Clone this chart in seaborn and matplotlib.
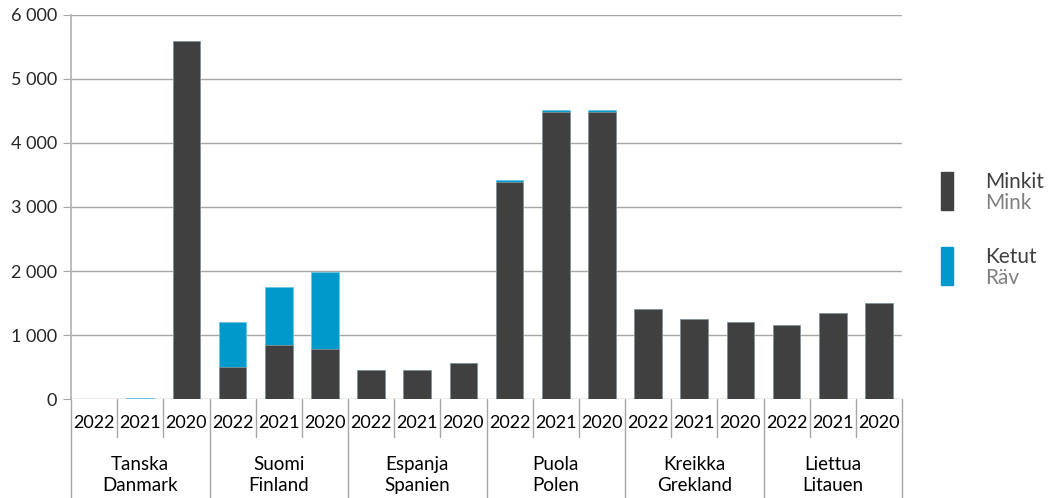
import numpy as np
import pandas as pd
import matplotlib
matplotlib.use('Agg')
import matplotlib.pyplot as plt
import matplotlib.ticker as mticker
from matplotlib.patches import Rectangle
import seaborn as sns

sns.set_style('white')
plt.rcParams['font.family'] = ['Lato', 'DejaVu Sans']

# data
countries = ['Tanska\nDanmark', 'Suomi\nFinland', 'Espanja\nSpanien',
             'Puola\nPolen', 'Kreikka\nGrekland', 'Liettua\nLitauen']
years = ['2022', '2021', '2020']
mink = [0, 0, 5600,
        500, 850, 780,
        450, 450, 560,
        3390, 4480, 4480,
        1400, 1250, 1200,
        1160, 1340, 1500]
fox = [0, 15, 0,
       700, 900, 1210,
       0, 0, 0,
       30, 40, 40,
       0, 0, 0,
       0, 0, 0]
legend_fi = ['Minkit', 'Ketut']
legend_sv = ['Mink', 'Räv']

c_mink = '#404040'
c_fox = '#0099cc'

labels = [f'{c}|{y}' for c in countries for y in years]
df = pd.DataFrame({'slot': labels, 'mink': mink, 'fox': fox})
df['total'] = df['mink'] + df['fox']

fig = plt.figure(figsize=(10.48, 4.98), dpi=100)
ax = fig.add_axes([71/1048, 1-399/498, (902-71)/1048, (399-15)/498])

# stacked bars: totals in blue, mink drawn over them
sns.barplot(data=df, x='slot', y='total', color=c_fox, width=0.6, ax=ax,
            edgecolor='#6cc4e4', linewidth=0.6, saturation=1)
sns.barplot(data=df, x='slot', y='mink', color=c_mink, width=0.6, ax=ax,
            edgecolor='#9a9a9a', linewidth=0.5, saturation=1)

n = len(labels)
ax.set_xlim(-0.5, n - 0.5)
ax.set_ylim(0, 6000)
ax.set_yticks(np.arange(0, 6001, 1000))
ax.yaxis.set_major_formatter(mticker.FuncFormatter(lambda v, p: f'{int(v):,}'.replace(',', ' ')))
ax.grid(axis='y', color='#a6a6a6', linewidth=1)
ax.set_axisbelow(True)
for s in ['top', 'right', 'bottom']:
    ax.spines[s].set_visible(False)
ax.spines['left'].set_color('#b0b0b0')
ax.spines['left'].set_linewidth(1.2)
ax.tick_params(axis='y', length=6, color='#a6a6a6', labelsize=13, pad=4, left=True)
ax.set_xticks([])
ax.set_xlabel('')
ax.set_ylabel('')

# category table below the axis
ax_l, ax_r = 71, 902
slot_w = (ax_r - ax_l) / n
def fx(px):
    return px / 1048
def fy(py):
    return 1 - py / 498

for i in range(n + 1):
    x = ax_l + i * slot_w
    if i % 3 == 0:
        fig.add_artist(plt.Line2D([fx(x), fx(x)], [fy(399), fy(498)], color='#a6a6a6', lw=1))
    else:
        fig.add_artist(plt.Line2D([fx(x), fx(x)], [fy(399), fy(437)], color='#a6a6a6', lw=1))

for i, lab in enumerate(labels):
    c, y = lab.split('|')
    x = ax_l + (i + 0.5) * slot_w
    fig.text(fx(x), fy(423), y, ha='center', va='center', fontsize=13, color='#000000')

for j, c in enumerate(countries):
    x = ax_l + (3 * j + 1.5) * slot_w
    fig.text(fx(x), fy(475), c, ha='center', va='center', fontsize=13.5,
             color='#000000', linespacing=1.25)

# legend
for k, (col, top) in enumerate([(c_mink, 172), (c_fox, 247)]):
    fig.add_artist(Rectangle((fx(941), fy(top + 38)), 12/1048, 38/498,
                             color=col, transform=fig.transFigure))
    fig.text(fx(985), fy(top + 10), legend_fi[k], ha='left', va='center',
             fontsize=15, color='#404040')
    fig.text(fx(985), fy(top + 31), legend_sv[k], ha='left', va='center',
             fontsize=15, color='#808080')

fig.savefig('out.png', dpi=100)
